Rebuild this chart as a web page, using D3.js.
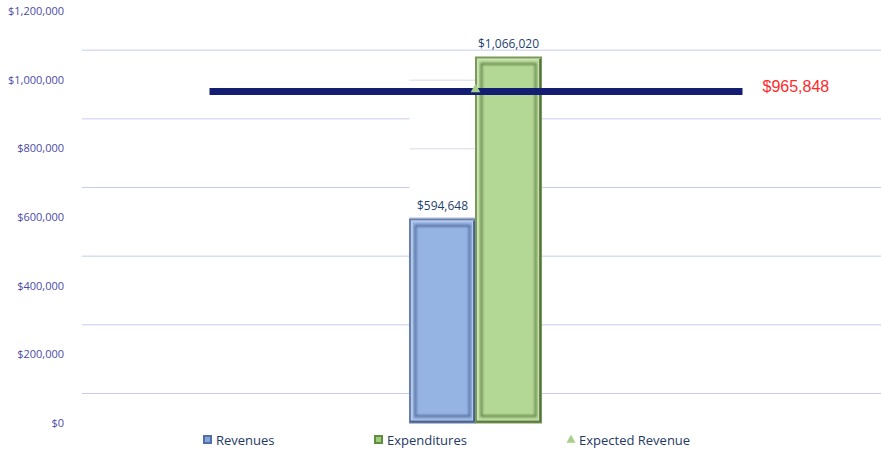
<!DOCTYPE html>
<html>
<head>
<meta charset="utf-8">
<script src="https://cdn.jsdelivr.net/npm/d3@7"></script>
<style>
  body { margin: 0; background: #fff; }
  svg { display: block; }
</style>
</head>
<body>
<div id="chart"></div>
<script>
// data
const categories = ["FY"];
const seriesNames = ["Revenues", "Expenditures"];
const seriesValues = [594648, 1066020];
const expectedRevenue = [965848];
const yTicks = [0, 200000, 400000, 600000, 800000, 1000000, 1200000];

const width = 881;
const height = 460;
const plotLeft = 82;
const plotRight = 869;
const depth = 30; // back wall offset of the 3D look

const barFill = ["#95b3e3", "#b3d795"];
const barEdge = ["#6a80ad", "#7a9a5c"];
const barDark = ["#3f5482", "#4d6a33"];
const legendFill = ["#4f6fa8", "#5f8f3c"];

const svg = d3.select("#chart")
    .append("svg")
    .attr("width", width)
    .attr("height", height);

// soft blur for the bevel edges
svg.append("defs").append("filter")
    .attr("id", "soft")
    .append("feGaussianBlur")
    .attr("stdDeviation", 0.8);

const y = d3.scaleLinear().domain([0, 1200000]).range([423, 11]);

const x0 = d3.scaleBand().domain(categories).range([plotLeft, plotRight])
    .paddingInner(0).paddingOuter(2.48);
const x1 = d3.scaleBand().domain(seriesNames).range([0, x0.bandwidth()]);

const money = d3.format("$,");

// back gridlines (shifted by the depth offset)
svg.append("g").selectAll("line")
    .data(yTicks.slice(0, -1))
    .join("line")
    .attr("x1", plotLeft)
    .attr("x2", width)
    .attr("y1", d => y(d) - depth + 0.5)
    .attr("y2", d => y(d) - depth + 0.5)
    .attr("stroke", "#c6cbf0")
    .attr("stroke-width", 1);

// the white wall behind the bars with its own faint gridlines
const gx = x0(categories[0]);
svg.append("rect")
    .attr("x", gx)
    .attr("y", y(seriesValues[1]) - 2)
    .attr("width", x0.bandwidth())
    .attr("height", y(0) - y(seriesValues[1]) + 2)
    .attr("fill", "#fff");

svg.append("g").selectAll("line")
    .data(yTicks.filter(d => d > 0 && d < 1200000))
    .join("line")
    .attr("x1", gx)
    .attr("x2", gx + x1.bandwidth())
    .attr("y1", d => y(d) + 0.5)
    .attr("y2", d => y(d) + 0.5)
    .attr("stroke", "#d8dbe8")
    .attr("stroke-width", 1);

// y axis labels
const yAxis = d3.axisLeft(y).tickValues(yTicks).tickFormat(money).tickSize(0).tickPadding(0);
const ag = svg.append("g")
    .attr("transform", "translate(64,0)")
    .call(yAxis);
ag.select(".domain").remove();
ag.selectAll("text")
    .attr("fill", "#4b4ba6")
    .style("font-family", "'Open Sans', sans-serif")
    .style("font-size", "11px");

// bars
const bars = svg.append("g").selectAll("g")
    .data(seriesNames.map((name, i) => ({ name, value: seriesValues[i], i })))
    .join("g");

bars.each(function (d) {
    const g = d3.select(this);
    const bx = gx + x1(d.name);
    const by = y(d.value);
    const bw = x1.bandwidth();
    const bh = y(0) - by;
    // outer bevel
    g.append("rect")
        .attr("x", bx + 0.5).attr("y", by + 0.5)
        .attr("width", bw - 1).attr("height", bh - 1)
        .attr("fill", barFill[d.i])
        .attr("stroke", barEdge[d.i])
        .attr("stroke-width", 2);
    // light rim
    g.append("rect")
        .attr("x", bx + 2.5).attr("y", by + 2.5)
        .attr("width", bw - 5).attr("height", bh - 5)
        .attr("fill", "none")
        .attr("stroke", "#ffffff")
        .attr("stroke-opacity", 0.3)
        .attr("stroke-width", 2);
    // inner face edge, soft
    g.append("rect")
        .attr("x", bx + 6).attr("y", by + 7)
        .attr("width", bw - 12).attr("height", bh - 14)
        .attr("fill", "none")
        .attr("stroke", barDark[d.i])
        .attr("stroke-opacity", 0.75)
        .attr("stroke-width", 2)
        .attr("filter", "url(#soft)");
    // darker right and bottom edges
    g.append("path")
        .attr("d", `M${bx + bw - 1.5},${by + 2}V${by + bh - 1.5}H${bx + 1}`)
        .attr("fill", "none")
        .attr("stroke", barDark[d.i])
        .attr("stroke-width", 2)
        .attr("stroke-opacity", 0.8);
    // value label
    g.append("text")
        .attr("x", bx + bw / 2)
        .attr("y", by - 9)
        .attr("text-anchor", "middle")
        .attr("fill", "#1f3f6e")
        .style("font-family", "'Open Sans', sans-serif")
        .style("font-size", "12px")
        .text(money(d.value));
});

// expected revenue line
const cx = gx + x0.bandwidth() / 2;
svg.append("line")
    .attr("x1", cx - 266)
    .attr("x2", cx + 267)
    .attr("y1", y(expectedRevenue[0]))
    .attr("y2", y(expectedRevenue[0]))
    .attr("stroke", "#131e72")
    .attr("stroke-width", 7);

svg.append("path")
    .attr("d", d3.symbol(d3.symbolTriangle, 40)())
    .attr("transform", `translate(${gx + x1.bandwidth()},${y(expectedRevenue[0]) - 2})`)
    .attr("fill", "#a6d08a");

svg.append("text")
    .attr("x", cx + 287)
    .attr("y", y(expectedRevenue[0]) + 1)
    .attr("fill", "#ff2a2a")
    .style("font-family", "'Liberation Sans', Arial, sans-serif")
    .style("font-size", "16px")
    .text(money(expectedRevenue[0]));

// legend
const legendItems = [
    { name: seriesNames[0], x: 203, type: "rect", i: 0 },
    { name: seriesNames[1], x: 374, type: "rect", i: 1 },
    { name: "Expected Revenue", x: 567, type: "tri" }
];
const lg = svg.append("g").selectAll("g")
    .data(legendItems)
    .join("g")
    .attr("transform", d => `translate(${d.x},440)`);

lg.each(function (d) {
    const g = d3.select(this);
    if (d.type === "rect") {
        g.append("rect")
            .attr("x", 0).attr("y", -5)
            .attr("width", 9).attr("height", 9)
            .attr("fill", legendFill[d.i]);
        g.append("rect")
            .attr("x", 2).attr("y", -3)
            .attr("width", 5).attr("height", 5)
            .attr("fill", barFill[d.i])
            .attr("opacity", 0.8);
        g.append("text")
            .attr("x", 13).attr("y", 4.5)
            .attr("fill", "#1f3a64")
            .style("font-family", "'Open Sans', sans-serif")
            .style("font-size", "13px")
            .text(d.name);
    } else {
        g.append("path")
            .attr("d", d3.symbol(d3.symbolTriangle, 36)())
            .attr("transform", "translate(4,0)")
            .attr("fill", "#a6d08a");
        g.append("text")
            .attr("x", 12).attr("y", 4.5)
            .attr("fill", "#1f3a64")
            .style("font-family", "'Open Sans', sans-serif")
            .style("font-size", "13px")
            .text(d.name);
    }
});
</script>
</body>
</html>
